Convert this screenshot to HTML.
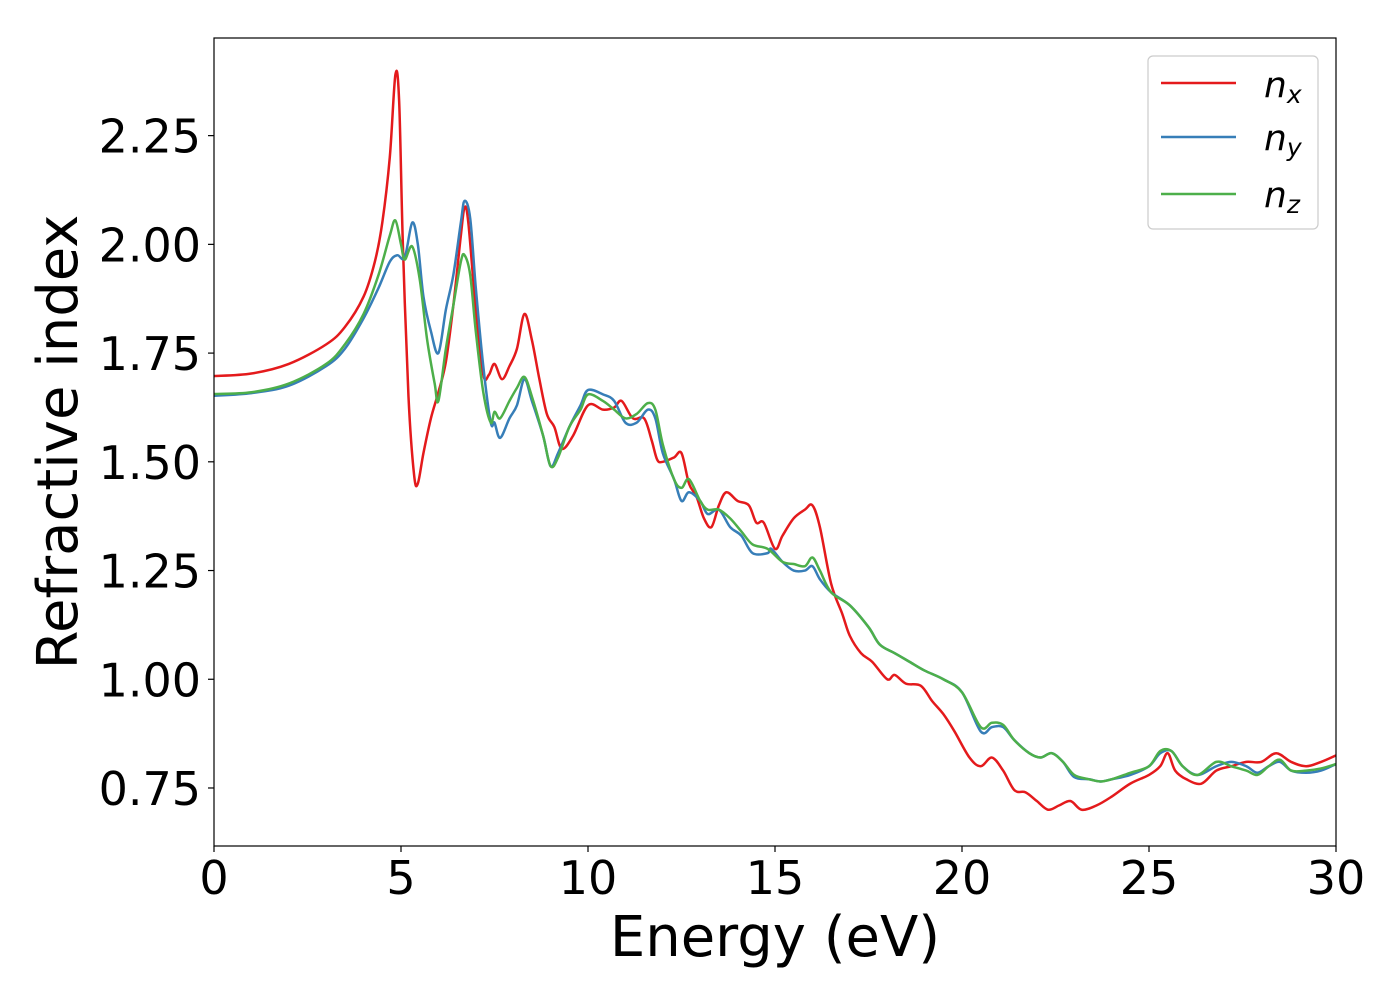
<!DOCTYPE html>
<html><head><meta charset="utf-8"><style>
body{margin:0;background:#fff;}
svg{display:block;font-family:"DejaVu Sans","Liberation Sans",sans-serif;}
</style></head><body>
<svg id="chart" width="1400" height="1000" viewBox="0 0 1400 1000">
<rect width="1400" height="1000" fill="#fff"/>
<g id="marks"></g>
<g id="ticks"></g>
<rect x="214" y="38" width="1122" height="808" fill="none" stroke="#000" stroke-width="1.2"/>
<text x="775" y="956" font-size="56" text-anchor="middle">Energy (eV)</text>
<text x="0" y="0" font-size="56" text-anchor="middle" transform="translate(77,442) rotate(-90)">Refractive index</text>
<g>
<rect x="1148" y="56" width="170" height="173" rx="5" fill="#fff" stroke="#ccc" stroke-width="1.2"/>
<g><line x1="1161" y1="83" x2="1236" y2="83" stroke="#e41a1c" stroke-width="2.5"/><text x="1264" y="97" font-size="36" font-style="italic">n<tspan font-size="25" dy="6">x</tspan></text></g>
<g><line x1="1161" y1="137" x2="1236" y2="137" stroke="#377eb8" stroke-width="2.5"/><text x="1264" y="150" font-size="36" font-style="italic">n<tspan font-size="25" dy="6">y</tspan></text></g>
<g><line x1="1161" y1="194" x2="1236" y2="194" stroke="#4daf4a" stroke-width="2.5"/><text x="1264" y="207" font-size="36" font-style="italic">n<tspan font-size="25" dy="6">z</tspan></text></g>
</g>
</svg>
<script>
const xTicks=[0,5,10,15,20,25,30];
const yTicks=[0.75,1.00,1.25,1.50,1.75,2.00,2.25];
const xNx=[0,1,2,3,3.5,4,4.3,4.5,4.7,4.85,4.95,5.05,5.2,5.35,5.45,5.6,5.8,6.0,6.2,6.4,6.6,6.7,6.8,7.0,7.2,7.35,7.5,7.7,7.9,8.1,8.3,8.5,8.7,8.9,9.1,9.3,9.6,10.0,10.4,10.7,10.9,11.2,11.5,11.7,11.85,12.0,12.3,12.5,12.7,12.9,13.1,13.3,13.5,13.7,14.0,14.3,14.5,14.7,15.0,15.2,15.5,15.8,16.0,16.2,16.5,16.8,17.0,17.3,17.6,18.0,18.2,18.5,18.9,19.2,19.5,19.8,20.2,20.5,20.8,21.1,21.4,21.7,22.0,22.3,22.6,22.9,23.2,23.6,24.0,24.5,25.0,25.3,25.5,25.7,26.0,26.4,26.8,27.2,27.6,28.0,28.4,28.8,29.2,29.6,30];
const nx=[1.697,1.703,1.725,1.77,1.81,1.88,1.96,2.05,2.2,2.39,2.33,2.0,1.65,1.47,1.45,1.52,1.6,1.66,1.73,1.86,2.02,2.085,2.05,1.85,1.70,1.70,1.725,1.69,1.72,1.76,1.84,1.78,1.69,1.61,1.58,1.53,1.56,1.63,1.62,1.625,1.64,1.60,1.60,1.55,1.505,1.50,1.51,1.52,1.45,1.42,1.37,1.35,1.40,1.43,1.41,1.40,1.36,1.36,1.30,1.33,1.37,1.39,1.40,1.35,1.22,1.15,1.10,1.06,1.04,1.00,1.01,0.99,0.985,0.95,0.92,0.88,0.82,0.80,0.82,0.79,0.745,0.74,0.72,0.70,0.71,0.72,0.70,0.71,0.73,0.76,0.78,0.80,0.83,0.79,0.77,0.76,0.79,0.80,0.81,0.81,0.83,0.81,0.80,0.81,0.825];
const xNy=[0,1,2,3,3.5,4,4.4,4.7,4.9,5.1,5.3,5.45,5.6,5.8,6.0,6.2,6.4,6.6,6.7,6.85,7.0,7.2,7.4,7.5,7.65,7.9,8.1,8.3,8.5,8.8,9.0,9.2,9.5,9.8,10.0,10.4,10.7,11.0,11.3,11.6,11.8,12.0,12.3,12.5,12.7,13.0,13.2,13.5,13.8,14.1,14.4,14.8,14.9,15.2,15.5,15.8,16.0,16.2,16.5,17.0,17.5,17.8,18.2,18.6,19.0,19.5,20.0,20.5,20.8,21.1,21.4,21.8,22.1,22.4,22.7,23.0,23.4,23.7,24.0,24.5,25.0,25.3,25.6,25.9,26.3,26.8,27.2,27.6,27.9,28.2,28.5,28.8,29.2,29.6,30];
const ny=[1.652,1.658,1.675,1.72,1.76,1.83,1.90,1.96,1.975,1.97,2.05,2.0,1.88,1.80,1.75,1.85,1.93,2.05,2.10,2.06,1.90,1.72,1.59,1.59,1.555,1.60,1.63,1.69,1.64,1.56,1.49,1.52,1.58,1.63,1.665,1.655,1.64,1.59,1.59,1.62,1.60,1.52,1.46,1.41,1.43,1.41,1.38,1.39,1.35,1.33,1.29,1.29,1.30,1.27,1.25,1.25,1.26,1.23,1.20,1.17,1.12,1.08,1.06,1.04,1.02,1.00,0.97,0.88,0.89,0.89,0.86,0.83,0.82,0.83,0.81,0.775,0.77,0.765,0.77,0.78,0.80,0.83,0.835,0.80,0.78,0.80,0.81,0.80,0.785,0.80,0.81,0.79,0.785,0.79,0.805];
const xNz=[0,1,2,3,3.5,4,4.4,4.7,4.85,5.0,5.1,5.3,5.5,5.7,5.9,6.0,6.2,6.4,6.6,6.7,6.85,7.0,7.2,7.4,7.5,7.65,7.9,8.1,8.3,8.5,8.8,9.0,9.2,9.5,9.8,10.0,10.4,10.7,11.0,11.3,11.6,11.8,12.0,12.3,12.5,12.7,13.0,13.2,13.5,13.8,14.1,14.4,14.8,15.2,15.5,15.8,16.0,16.2,16.5,17.0,17.5,17.8,18.2,18.6,19.0,19.5,20.0,20.5,20.8,21.1,21.4,21.8,22.1,22.4,22.7,23.0,23.4,23.7,24.0,24.5,25.0,25.3,25.6,25.9,26.3,26.8,27.2,27.6,27.9,28.2,28.5,28.8,29.2,29.6,30];
const nz=[1.656,1.66,1.68,1.725,1.77,1.84,1.93,2.02,2.055,2.0,1.965,1.995,1.92,1.78,1.68,1.64,1.76,1.86,1.96,1.975,1.93,1.80,1.66,1.59,1.615,1.60,1.64,1.67,1.695,1.65,1.56,1.49,1.51,1.58,1.62,1.655,1.64,1.62,1.60,1.61,1.635,1.62,1.54,1.46,1.44,1.46,1.41,1.39,1.39,1.37,1.34,1.31,1.30,1.27,1.265,1.26,1.28,1.25,1.20,1.17,1.12,1.08,1.06,1.04,1.02,1.00,0.97,0.89,0.90,0.895,0.86,0.83,0.82,0.83,0.81,0.78,0.77,0.765,0.77,0.785,0.80,0.835,0.835,0.80,0.78,0.81,0.80,0.79,0.78,0.80,0.815,0.79,0.79,0.795,0.805];

const NS="http://www.w3.org/2000/svg";
const X0=214,X1=1336,XMIN=0,XMAX=30;
const YMIN=0.6166,YMAX=2.4745,Y0=846,Y1=38;
function sx(v){return X0+(v-XMIN)/(XMAX-XMIN)*(X1-X0);}
function sy(v){return Y0-(v-YMIN)/(YMAX-YMIN)*(Y0-Y1);}
function pathFor(xs,ys){
  const p=xs.map((x,i)=>[sx(x),sy(ys[i])]);
  let d="M"+p[0][0].toFixed(2)+","+p[0][1].toFixed(2);
  for(let i=0;i<p.length-1;i++){
    const a=p[Math.max(0,i-1)],b=p[i],c=p[i+1],e=p[Math.min(p.length-1,i+2)];
    const c1=[b[0]+(c[0]-a[0])/6,b[1]+(c[1]-a[1])/6];
    const c2=[c[0]-(e[0]-b[0])/6,c[1]-(e[1]-b[1])/6];
    d+="C"+c1[0].toFixed(2)+","+c1[1].toFixed(2)+" "+c2[0].toFixed(2)+","+c2[1].toFixed(2)+" "+c[0].toFixed(2)+","+c[1].toFixed(2);
  }
  return d;
}
const marks=document.getElementById('marks');
const series=[[xNx,nx,'#e41a1c','line-nx'],[xNy,ny,'#377eb8','line-ny'],[xNz,nz,'#4daf4a','line-nz']];
for(const s of series){
  const el=document.createElementNS(NS,'path');
  el.setAttribute('d',pathFor(s[0],s[1]));
  el.setAttribute('fill','none');
  el.setAttribute('stroke',s[2]);
  el.setAttribute('stroke-width','2.5');
  el.setAttribute('stroke-linejoin','round');
  
  
  marks.appendChild(el);
}
const ticks=document.getElementById('ticks');
for(const t of xTicks){
  const l=document.createElementNS(NS,'line');
  l.setAttribute('x1',sx(t));l.setAttribute('x2',sx(t));l.setAttribute('y1',846);l.setAttribute('y2',852);
  l.setAttribute('stroke','#000');l.setAttribute('stroke-width','1.2');
  
  
  ticks.appendChild(l);
  const tx=document.createElementNS(NS,'text');
  tx.setAttribute('x',sx(t));tx.setAttribute('y',894);tx.setAttribute('font-size','46');tx.setAttribute('text-anchor','middle');
  tx.textContent=String(t);
  
  
  ticks.appendChild(tx);
}
for(const t of yTicks){
  const l=document.createElementNS(NS,'line');
  l.setAttribute('x1',208);l.setAttribute('x2',214);l.setAttribute('y1',sy(t));l.setAttribute('y2',sy(t));
  l.setAttribute('stroke','#000');l.setAttribute('stroke-width','1.2');
  
  
  ticks.appendChild(l);
  const tx=document.createElementNS(NS,'text');
  tx.setAttribute('x',201);tx.setAttribute('y',sy(t)+17);tx.setAttribute('font-size','46');tx.setAttribute('text-anchor','end');
  tx.textContent=t.toFixed(2);
  
  
  ticks.appendChild(tx);
}
</script>
</body></html>
